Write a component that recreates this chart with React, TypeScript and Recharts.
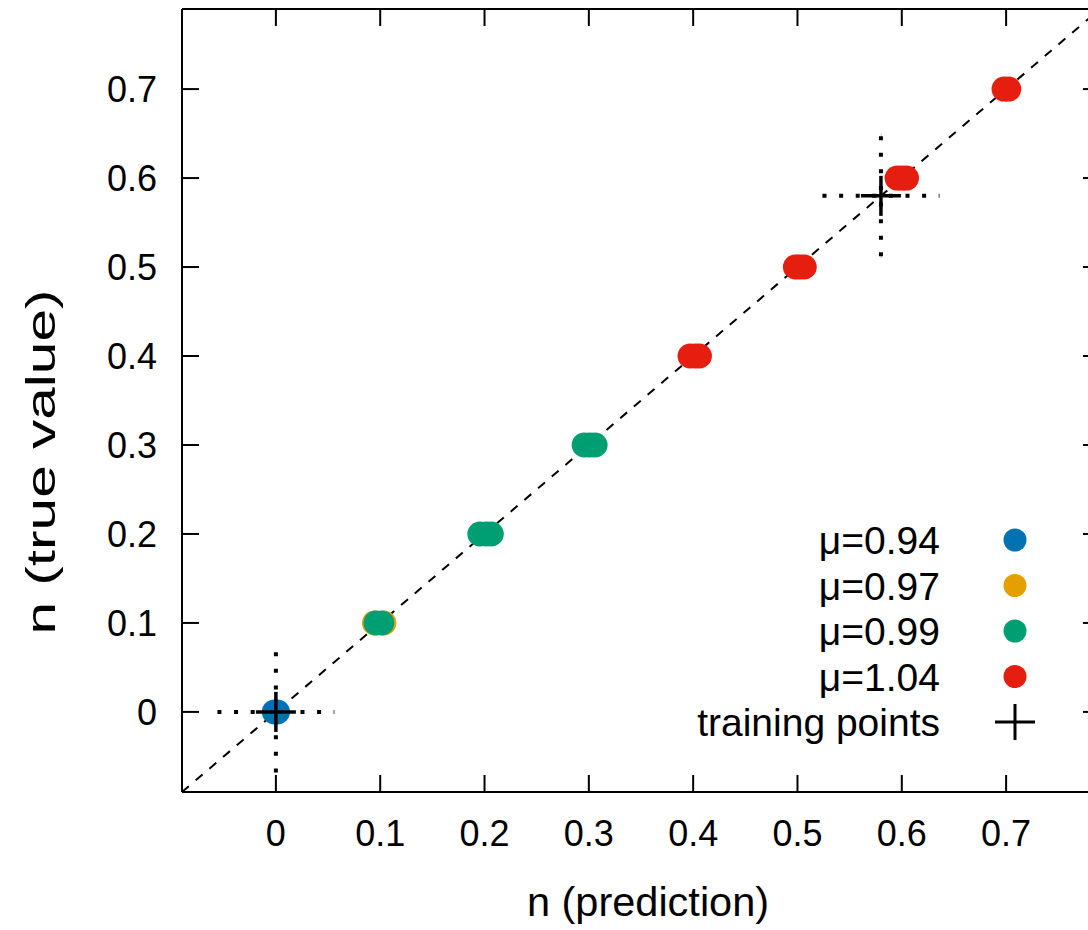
import { ScatterChart, Scatter, XAxis, YAxis, ErrorBar, ReferenceLine, Legend, Label } from 'recharts';

// axis setup
const DOMAIN: [number, number] = [-0.09, 0.79];
const TICKS = [0, 0.1, 0.2, 0.3, 0.4, 0.5, 0.6, 0.7];

// predicted vs true filling n, one array per chemical potential
const MU_094 = [
  { x: -0.0015, y: 0 },
  { x: 0.0015, y: 0 },
];
const MU_097 = [
  { x: 0.0945, y: 0.1 },
  { x: 0.1035, y: 0.1 },
];
const MU_099 = [
  { x: 0.096, y: 0.1 },
  { x: 0.1015, y: 0.1 },
  { x: 0.1955, y: 0.2 },
  { x: 0.2015, y: 0.2 },
  { x: 0.2065, y: 0.2 },
  { x: 0.2955, y: 0.3 },
  { x: 0.301, y: 0.3 },
  { x: 0.306, y: 0.3 },
];
const MU_104 = [
  { x: 0.397, y: 0.4 },
  { x: 0.402, y: 0.4 },
  { x: 0.406, y: 0.4 },
  { x: 0.498, y: 0.5 },
  { x: 0.502, y: 0.5 },
  { x: 0.5065, y: 0.5 },
  { x: 0.5955, y: 0.6 },
  { x: 0.6, y: 0.6 },
  { x: 0.6045, y: 0.6 },
  { x: 0.698, y: 0.7 },
  { x: 0.7025, y: 0.7 },
];
const TRAINING = [
  { x: 0, y: 0, ex: 0.056, ey: 0.068 },
  { x: 0.58, y: 0.58, ex: 0.056, ey: 0.068 },
];
const DIAGONAL = [-0.09, 0.79];

const SERIES = [
  { name: 'μ=0.94', color: '#0072B2', data: MU_094 },
  { name: 'μ=0.97', color: '#E69F00', data: MU_097 },
  { name: 'μ=0.99', color: '#009E73', data: MU_099 },
  { name: 'μ=1.04', color: '#E51E10', data: MU_104 },
];

const FONT = '"Liberation Sans", Arial, sans-serif';
const TICK_FONT = 36;
const TITLE_FONT = 41.5;
const LEGEND_FONT = 39;

const dot = (color: string, r: number) => (p: any) => (
  <circle cx={p.cx} cy={p.cy} r={r} fill={color} />
);

const cross = (p: any) => (
  <g stroke="#000" strokeWidth={3.5}>
    <line x1={p.cx - 20} y1={p.cy} x2={p.cx + 20} y2={p.cy} />
    <line x1={p.cx} y1={p.cy - 20} x2={p.cx} y2={p.cy + 20} />
  </g>
);

// keeps the mirrored top/right axes alive without drawing anything
const nothing = () => <g />;

const renderLegend = () => (
  <svg width={400} height={240} style={{ display: 'block' }}>
    {SERIES.map((s, i) => (
      <g key={s.name}>
        <text x={260} y={30 + i * 45.5 + 14} textAnchor="end" fontSize={LEGEND_FONT} fontFamily={FONT} fill="#000">
          {s.name}
        </text>
        <circle cx={335} cy={30 + i * 45.5} r={11.5} fill={s.color} />
      </g>
    ))}
    <text x={260} y={30 + 4 * 45.5 + 14} textAnchor="end" fontSize={LEGEND_FONT} fontFamily={FONT} fill="#000">
      training points
    </text>
    <g stroke="#000" strokeWidth={3}>
      <line x1={315} y1={212} x2={355} y2={212} />
      <line x1={335} y1={194} x2={335} y2={230} />
    </g>
  </svg>
);

export default function App() {
  const axisLine = { stroke: '#000', strokeWidth: 2 };
  const tickLine = { stroke: '#000', strokeWidth: 2 };
  const tickStyle = { fontSize: TICK_FONT, fontFamily: FONT, fill: '#000' };

  return (
    <div style={{ position: 'absolute', left: 0, top: 0, width: 1088, height: 930, overflow: 'hidden', background: '#fff' }}>
      <ScatterChart width={1110} height={930} margin={{ top: 8, right: 9, bottom: 0, left: 0 }}>
        <XAxis
          type="number"
          dataKey="x"
          domain={DOMAIN}
          ticks={TICKS}
          allowDataOverflow
          height={138}
          tickSize={-17}
          tickMargin={45}
          axisLine={axisLine}
          tickLine={tickLine}
          tick={tickStyle}
        >
          <Label
            content={({ viewBox }: any) => (
              <text
                x={viewBox.x + viewBox.width / 2 + 7}
                y={viewBox.y + 124}
                textAnchor="middle"
                fontSize={TITLE_FONT}
                fontFamily={FONT}
                fill="#000"
              >
                n (prediction)
              </text>
            )}
          />
        </XAxis>
        <XAxis
          xAxisId="top"
          orientation="top"
          type="number"
          dataKey="x"
          domain={DOMAIN}
          ticks={TICKS}
          allowDataOverflow
          height={1}
          tickSize={-17}
          axisLine={axisLine}
          tickLine={tickLine}
          tickFormatter={() => ''}
        />
        <YAxis
          type="number"
          dataKey="y"
          domain={DOMAIN}
          ticks={TICKS}
          allowDataOverflow
          width={182}
          tickSize={-17}
          tickMargin={42}
          axisLine={axisLine}
          tickLine={tickLine}
          tick={tickStyle}
        >
          <Label
            content={({ viewBox }: any) => {
              const cx = viewBox.x + 41;
              const cy = 462;
              return (
                <text
                  x={cx}
                  y={cy}
                  transform={`rotate(-90 ${cx} ${cy})`}
                  textAnchor="middle"
                  dominantBaseline="central"
                  fontSize={40}
                  fontFamily={FONT}
                  textLength={345}
                  lengthAdjust="spacingAndGlyphs"
                  fill="#000"
                >
                  n (true value)
                </text>
              );
            }}
          />
        </YAxis>
        <YAxis
          yAxisId="right"
          orientation="right"
          type="number"
          dataKey="y"
          domain={DOMAIN}
          ticks={TICKS}
          allowDataOverflow
          width={1}
          tickSize={-17}
          axisLine={axisLine}
          tickLine={tickLine}
          tickFormatter={() => ''}
        />

        <Scatter
          xAxisId="top"
          yAxisId="right"
          data={TRAINING}
          shape={nothing}
          legendType="none"
          isAnimationActive={false}
        />

        {SERIES.map((s) => (
          <Scatter
            key={s.name}
            name={s.name}
            data={s.data}
            fill={s.color}
            shape={dot(s.color, 12.5)}
            isAnimationActive={false}
          />
        ))}

        <ReferenceLine
          segment={[
            { x: DIAGONAL[0], y: DIAGONAL[0] },
            { x: DIAGONAL[1], y: DIAGONAL[1] },
          ]}
          stroke="#000"
          strokeWidth={2}
          strokeDasharray="9 9"
        />

        <Scatter name="training points" data={TRAINING} shape={cross} isAnimationActive={false}>
          <ErrorBar dataKey="ex" direction="x" width={0} stroke="#000" strokeWidth={4} strokeDasharray="4 12.6" />
          <ErrorBar dataKey="ey" direction="y" width={0} stroke="#000" strokeWidth={4} strokeDasharray="4 12.6" />
        </Scatter>

        <Legend
          layout="horizontal"
          verticalAlign="middle"
          align="center"
          content={renderLegend}
          wrapperStyle={{ left: 680, top: 510, width: 400, height: 240 }}
        />
      </ScatterChart>
    </div>
  );
}
